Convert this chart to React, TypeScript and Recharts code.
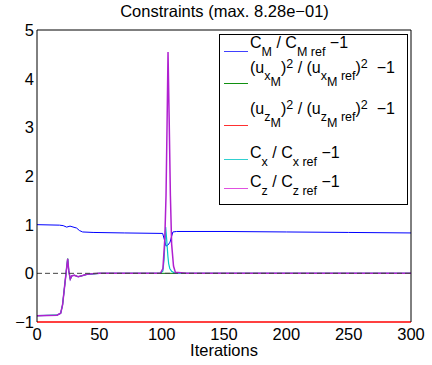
import { LineChart, Line, XAxis, YAxis } from "recharts";
import type { ReactNode } from "react";

const xTicks = [0, 50, 100, 150, 200, 250, 300];
const yTicks = [-1, 0, 1, 2, 3, 4, 5];

// C_M / C_M ref - 1
const cmIter = [0, 18, 21, 23.8, 26.5, 31.8, 34, 36.6, 45, 70, 100.8, 102.5, 103.5, 105, 106.7, 108, 109, 112, 150, 200, 250, 300];
const cmVal = [1.0, 0.99, 0.98, 0.95, 0.97, 0.93, 0.88, 0.85, 0.84, 0.83, 0.82, 0.66, 0.56, 0.58, 0.64, 0.76, 0.85, 0.86, 0.86, 0.85, 0.84, 0.83];

// (u_x)^2 / (u_x ref)^2 - 1
const uxIter = [0, 16, 19, 20.5, 22, 23.5, 24.6, 25.5, 26.7, 28, 30, 33, 36, 40, 50, 300];
const uxVal = [-0.87, -0.86, -0.82, -0.65, -0.3, 0.05, 0.3, 0.05, -0.12, -0.05, -0.04, -0.07, -0.05, -0.02, 0, 0];

// (u_z)^2 / (u_z ref)^2 - 1
const uzIter = [0, 300];
const uzVal = [-1, -1];

// C_x / C_x ref - 1
const cxIter = [0, 16, 19, 20.5, 22, 23.5, 24.6, 25.5, 26.7, 28, 30, 33, 36, 40, 50, 99, 101, 102, 102.8, 103.2, 104, 105, 105.6, 106.5, 108, 110.7, 300];
const cxVal = [-0.87, -0.86, -0.82, -0.65, -0.3, 0.05, 0.3, 0.05, -0.12, -0.05, -0.04, -0.07, -0.05, -0.02, 0, 0, 0.05, 0.3, 0.75, 0.95, 0.7, 0.35, 0.2, 0.1, 0.04, 0, 0];

// C_z / C_z ref - 1
const czIter = [0, 16, 19, 20.5, 22, 23.5, 24.6, 25.5, 26.7, 28, 30, 33, 36, 40, 50, 99, 101, 102.5, 103.5, 104.3, 105.1, 106, 107, 108, 109.5, 111, 120, 300];
const czVal = [-0.87, -0.86, -0.82, -0.65, -0.3, 0.05, 0.3, 0.05, -0.12, -0.05, -0.04, -0.07, -0.05, -0.02, 0, 0, 0.1, 0.7, 1.6, 3.0, 4.55, 3.2, 1.6, 0.6, 0.15, 0.02, 0, 0];

// dashed zero line
const zeroIter = [0, 300];
const zeroVal = [0, 0];

const toPoints = (it: number[], v: number[]) => it.map((x, i) => ({ it: x, v: v[i] }));

const font = '"Liberation Sans", Arial, Helvetica, sans-serif';
const fmtY = (v: number) => (v < 0 ? "\u2212" + Math.abs(v) : String(v));
const blank = () => "";

const S = ({ children, d = 8 }: { children: ReactNode; d?: number }) => (
  <span style={{ fontSize: 12.5, position: "relative", top: d }}>{children}</span>
);
const P = ({ children }: { children: ReactNode }) => (
  <span style={{ fontSize: 12.5, position: "relative", top: -5 }}>{children}</span>
);

const legendItems: { color: string; lineY: number; base: number; text: ReactNode }[] = [
  { color: "#4040ff", lineY: 51, base: 48, text: <>C<S>M</S> / C<S>M ref</S> −1</> },
  {
    color: "#109010", lineY: 83, base: 73,
    text: <>(u<S d={7}>x<S d={6}>M</S></S>)<P>2</P> / (u<S d={7}>x<S d={6}>M</S> ref</S>)<P>2</P>&nbsp; −1</>,
  },
  {
    color: "#ff3030", lineY: 125, base: 114,
    text: <>(u<S d={7}>z<S d={6}>M</S></S>)<P>2</P> / (u<S d={7}>z<S d={6}>M</S> ref</S>)<P>2</P>&nbsp; −1</>,
  },
  { color: "#30d0d0", lineY: 159, base: 158, text: <>C<S>x</S> / C<S>x ref</S> −1</> },
  { color: "#e050e0", lineY: 188, base: 187, text: <>C<S>z</S> / C<S>z ref</S> −1</> },
];

export default function App() {
  return (
    <div style={{ position: "absolute", left: 0, top: 0, width: 432, height: 365, background: "#fff", fontFamily: font }}>
      <LineChart width={432} height={365} margin={{ top: 30, right: 21, bottom: 42, left: 36 }}>
        <XAxis dataKey="it" type="number" domain={[0, 300]} ticks={xTicks} height={1}
          tickSize={0} tickMargin={6} axisLine={false}
          tick={{ fill: "#000", fontSize: 16.5, fontFamily: font }} />
        <XAxis xAxisId="bin" dataKey="it" type="number" domain={[0, 300]} ticks={xTicks} height={1}
          mirror tickSize={4} tickFormatter={blank} axisLine={false} tickLine={{ stroke: "#000" }} />
        <XAxis xAxisId="top" orientation="top" dataKey="it" type="number" domain={[0, 300]} ticks={xTicks} height={1}
          mirror tickSize={4} tickFormatter={blank} axisLine={{ stroke: "#000" }} tickLine={{ stroke: "#000" }} />
        <YAxis type="number" domain={[-1, 5]} ticks={yTicks} width={1} tickSize={0} tickMargin={3}
          tickFormatter={fmtY} axisLine={{ stroke: "#000" }}
          tick={{ fill: "#000", fontSize: 16.5, fontFamily: font }} />
        <YAxis yAxisId="lin" type="number" domain={[-1, 5]} ticks={yTicks} width={1}
          mirror tickSize={4} tickFormatter={blank} axisLine={false} tickLine={{ stroke: "#000" }} />
        <YAxis yAxisId="r" orientation="right" type="number" domain={[-1, 5]} ticks={yTicks} width={1}
          mirror tickSize={4} tickFormatter={blank} axisLine={{ stroke: "#000" }} tickLine={{ stroke: "#000" }} />
        <Line data={toPoints(cmIter, cmVal)} dataKey="v" stroke="#0000ff" strokeWidth={1} dot={false} isAnimationActive={false} />
        <Line data={toPoints(uxIter, uxVal)} dataKey="v" stroke="#008000" strokeWidth={1} dot={false} isAnimationActive={false} />
        <Line data={toPoints(uzIter, uzVal)} dataKey="v" stroke="#ff0000" strokeWidth={1.5} dot={false} isAnimationActive={false} />
        <Line data={toPoints(cxIter, cxVal)} dataKey="v" stroke="#00c8c8" strokeWidth={1.2} dot={false} isAnimationActive={false} />
        <Line data={toPoints(czIter, czVal)} dataKey="v" stroke="#b020d0" strokeWidth={1.5} dot={false} isAnimationActive={false} />
        <Line data={toPoints(zeroIter, zeroVal)} dataKey="v" stroke="#444" strokeWidth={1} strokeDasharray="5 3" dot={false} isAnimationActive={false} />
      </LineChart>
      <svg width={432} height={365} style={{ position: "absolute", left: 0, top: 0, pointerEvents: "none" }}>
        <text x={224.5} y={16.5} textAnchor="middle" fontSize={16.5} fontFamily={font} fill="#000">
          Constraints (max. 8.28e−01)
        </text>
        <text x={224} y={356} textAnchor="middle" fontSize={16.5} fontFamily={font} fill="#000">
          Iterations
        </text>
      </svg>
      <div style={{ position: "absolute", left: 219, top: 34, width: 187, height: 169, border: "1px solid #000", background: "#fff" }} />
      {legendItems.map((e, i) => (
        <div key={i}>
          <div style={{ position: "absolute", left: 224, top: e.lineY, width: 24, height: 1, background: e.color }} />
          <div style={{ position: "absolute", left: 250, top: e.base - 12.8, fontSize: 16, lineHeight: "16px", whiteSpace: "nowrap", color: "#000" }}>
            {e.text}
          </div>
        </div>
      ))}
    </div>
  );
}
